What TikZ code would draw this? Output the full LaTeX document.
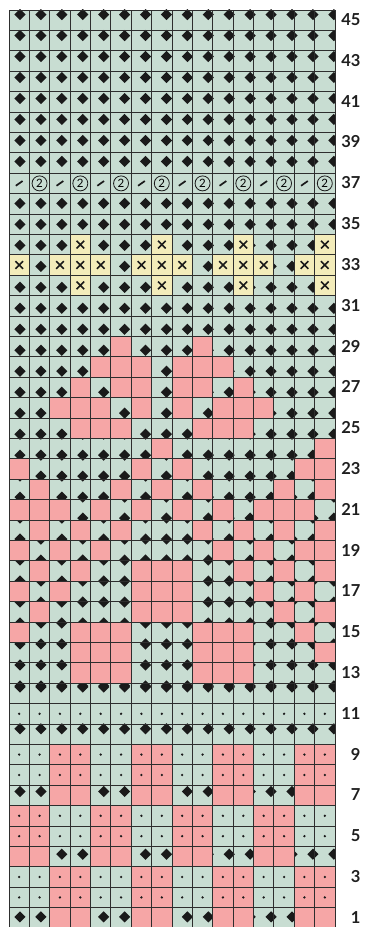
\documentclass[tikz,border=0pt]{standalone}
\usepackage{fontspec}
\setmainfont{Lato}
\usepackage{xcolor}
\definecolor{sage}{HTML}{C8DDD2}
\definecolor{rosy}{HTML}{F6A6A6}
\definecolor{straw}{HTML}{F3ECBA}
\definecolor{ink}{HTML}{1A1A1A}
\newcommand{\cellw}{20.375}
\newcommand{\cellh}{20.4}
\newcommand{\cellbox}[3]{\fill[#1] ({9+(#2-1)*\cellw},{-1+(#3-1)*\cellh}) rectangle ++(\cellw,\cellh);}
\newcommand{\pinkrow}[2]{\foreach \cc in {#2} {\cellbox{pinkcell}{\cc}{#1}}}
\newcommand{\xcell}[2]{\cellbox{yellowcell}{#1}{#2}
  \draw[cross] ({9+(#1-0.5)*\cellw-3.8},{-1+(#2-0.5)*\cellh-3.8}) -- ++(7.6,7.6)
               ({9+(#1-0.5)*\cellw-3.8},{-1+(#2-0.5)*\cellh+3.8}) -- ++(7.6,-7.6);}

\begin{document}
\begin{tikzpicture}[x=1pt,y=1pt,
  pinkcell/.style={fill=rosy},
  yellowcell/.style={fill=straw},
  diam/.style={fill=ink},
  gridline/.style={draw=black!82,line width=0.9pt},
  cross/.style={draw=ink,line width=1.6pt},
  slash/.style={draw=ink,line width=1.7pt},
  circtwo/.style={draw=ink,circle,line width=0.8pt,minimum size=15pt,inner sep=0pt,font=\fontsize{11.5}{11.5}\selectfont},
  rowlbl/.style={anchor=east,text=black!88,font=\bfseries\fontsize{16.5}{16.5}\selectfont}
]
\useasboundingbox (0,0) rectangle (368,927);
\fill[sage] (9,-1) rectangle (335,917);

% diamond layer, drawn under the coloured cells
\begin{scope}
  \clip (9,-1) rectangle (335,917);
  \foreach \rr in {13,...,45} {
    \ifnum\rr=37\relax\else
    \foreach \cc in {1,...,16} {
      \pgfmathsetmacro{\px}{9+(\cc-0.5)*\cellw+0.8+0.55*(\cc-1)}
      \pgfmathsetmacro{\py}{-1+(\rr-0.5)*\cellh-2.5-0.58*(31-\rr)}
      \fill[diam] (\px,\py) +(5.6,0) -- +(0,5.6) -- +(-5.6,0) -- +(0,-5.6) -- cycle;
    }
    \fi
  }
  \foreach \rr in {1,4,7,10,12}
    \foreach \cc in {1,...,16} {
      \pgfmathsetmacro{\px}{9+(\cc-0.5)*\cellw+0.8+0.55*(\cc-1)}
      \pgfmathsetmacro{\py}{-1+(\rr-0.5)*\cellh+0.9+0.5*(\rr-1)}
      \fill[diam] (\px,\py) +(5.6,0) -- +(0,5.6) -- +(-5.6,0) -- +(0,-5.6) -- cycle;
    }
\end{scope}

% pink motif
\pinkrow{29}{6,10}
\pinkrow{28}{5,6,7,9,10,11}
\pinkrow{27}{4,6,7,9,10,12}
\pinkrow{26}{3,4,5,7,9,11,12,13}
\pinkrow{25}{4,5,6,10,11,12}
\pinkrow{24}{8,16}
\pinkrow{23}{1,7,9,15,16}
\pinkrow{22}{2,6,8,10,14,16}
\pinkrow{21}{1,2,3,5,7,9,11,13,14,15}
\pinkrow{20}{2,4,6,10,12,14,16}
\pinkrow{19}{1,3,5,11,13,15,16}
\pinkrow{18}{2,4,7,8,9,12,14,16}
\pinkrow{17}{1,3,7,8,9,13,15}
\pinkrow{16}{2,7,8,9,14,16}
\pinkrow{15}{1,4,5,6,10,11,12,15}
\pinkrow{14}{4,5,6,10,11,12,16}
\pinkrow{13}{4,5,6,10,11,12}
\foreach \rr in {1,2,3,7,8,9} {\pinkrow{\rr}{3,4,7,8,11,12,15,16}}
\foreach \rr in {4,5,6} {\pinkrow{\rr}{1,2,5,6,9,10,13,14}}

% yellow crosses
\foreach \cc in {4,8,12,16} {\xcell{\cc}{34}\xcell{\cc}{32}}
\foreach \cc in {1,3,4,5,7,8,9,11,12,13,15,16} {\xcell{\cc}{33}}

% dot rows
\foreach \rr in {2,3,5,6,8,9,11}
  \foreach \cc in {1,...,16}
    \fill[ink] ({9+(\cc-0.5)*\cellw},{-1+(\rr-0.5)*\cellh}) circle (1.3);

% row 37
\foreach \cc in {1,3,...,15}
  \draw[slash] ({9+(\cc-0.5)*\cellw-3.4},{-1+36.5*\cellh-2.4}) -- ++(6.8,4.8);
\foreach \cc in {2,4,...,16}
  \node[circtwo] (two\cc) at ({9+(\cc-0.5)*\cellw},{-1+36.5*\cellh}) {2};

% grid
\foreach \cc in {0,...,16}
  \draw[gridline] ({9+\cc*\cellw},-1) -- ({9+\cc*\cellw},917);
\foreach \rr in {0,...,45}
  \draw[gridline] (9,{-1+\rr*\cellh}) -- (335,{-1+\rr*\cellh});

% row numbers
\foreach \rr in {1,3,...,45}
  \node[rowlbl] (lbl\rr) at (364,{-1+(\rr-0.5)*\cellh+0.6}) {\rr};
\end{tikzpicture}
\end{document}
